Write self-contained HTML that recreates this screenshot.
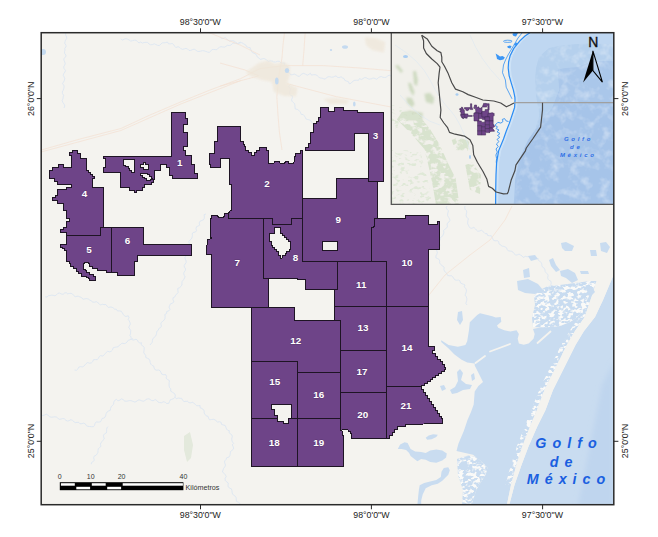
<!DOCTYPE html><html><head><meta charset="utf-8"><style>html,body{margin:0;padding:0;background:#fff;}svg{display:block;}text{font-family:"Liberation Sans",Arial,sans-serif;}</style></head><body>
<svg width="658" height="537" viewBox="0 0 658 537">
<defs><clipPath id="mc"><rect x="41.2" y="32.7" width="572.6" height="472"/></clipPath><clipPath id="ic"><rect x="391.2" y="32.7" width="222.6" height="171.6"/></clipPath><filter id="bl" x="-20%" y="-20%" width="140%" height="140%"><feGaussianBlur stdDeviation="1.2"/></filter><filter id="bl2" x="-20%" y="-20%" width="140%" height="140%"><feGaussianBlur stdDeviation="0.5"/></filter><filter id="bl3" x="-20%" y="-20%" width="140%" height="140%"><feGaussianBlur stdDeviation="2.5"/></filter><filter id="mot" x="0" y="0" width="1" height="1"><feTurbulence type="fractalNoise" baseFrequency="0.22 0.3" numOctaves="2" seed="11" result="n"/><feColorMatrix in="n" type="matrix" values="0 0 0 0 0.957 0 0 0 0 0.953 0 0 0 0 0.937 7 0 0 0 -3.25" result="c"/><feComposite in="c" in2="SourceAlpha" operator="in"/></filter><filter id="grn" x="0" y="0" width="1" height="1"><feTurbulence type="fractalNoise" baseFrequency="0.13 0.2" numOctaves="3" seed="3" result="n"/><feColorMatrix in="n" type="matrix" values="0 0 0 0 0.69 0 0 0 0 0.765 0 0 0 0 0.62 6 0 0 0 -2.05" result="c"/><feComposite in="c" in2="SourceAlpha" operator="in" result="d"/><feGaussianBlur in="d" stdDeviation="0.5"/></filter><filter id="tex" x="0" y="0" width="1" height="1"><feTurbulence type="fractalNoise" baseFrequency="0.1" numOctaves="3" seed="21" result="n"/><feColorMatrix in="n" type="matrix" values="0 0 0 0 1 0 0 0 0 1 0 0 0 0 1 0.9 0 0 0 -0.42" result="c"/><feComposite in="c" in2="SourceAlpha" operator="in"/></filter><filter id="grn2" x="0" y="0" width="1" height="1"><feTurbulence type="fractalNoise" baseFrequency="0.2 0.3" numOctaves="2" seed="5" result="n"/><feColorMatrix in="n" type="matrix" values="0 0 0 0 0.74 0 0 0 0 0.81 0 0 0 0 0.68 6 0 0 0 -3.2" result="c"/><feComposite in="c" in2="SourceAlpha" operator="in" result="d"/><feGaussianBlur in="d" stdDeviation="0.4"/></filter></defs>
<rect width="658" height="537" fill="#fff"/>
<g clip-path="url(#mc)">
<rect x="41" y="32" width="574" height="474" fill="#f4f3ef"/>
<g fill="none" stroke="#d9e5f2" stroke-width="0.8" stroke-linejoin="round">
<polyline points="66.3,32.0 65.6,33.6 65.7,35.2 66.6,37.0 66.6,38.6 65.5,40.2 65.0,41.8 64.7,43.4 66.0,45.1 66.0,46.8 64.8,48.3 65.0,50.0 64.5,51.7 64.6,53.4 65.9,55.1 65.8,56.8 63.9,58.5 64.0,60.2 64.7,61.9 65.2,63.6 64.6,65.3 63.7,66.9 64.1,68.6 65.5,70.4 64.9,72.0 63.8,73.6 63.2,75.3 64.2,77.0 64.7,78.7 64.4,80.4 63.5,82.0 62.5,83.6 63.8,85.3 64.1,87.0 63.7,88.7 63.2,90.3 62.3,91.9 62.5,93.6 63.6,95.3 63.2,96.9 63.0,98.6 62.2,100.6 62.8,102.4 64.2,104.2 64.8,106.0 64.0,108.0"/>
<polyline points="120.9,38.7 122.4,40.2 124.2,39.2 126.0,38.7 127.6,39.2 129.2,40.0 130.7,41.1 132.5,40.7 134.3,40.1 136.0,40.3 137.5,41.5 138.9,43.0 140.8,42.0 142.3,43.1 144.2,42.5 146.0,42.3 147.7,42.4 149.1,44.1 150.7,44.8 152.4,44.6 154.3,43.8 155.9,44.5 157.5,45.3 159.4,45.6 160.8,44.0 162.3,42.9 164.1,42.8 165.8,42.6 167.5,42.0 168.5,43.8 170.3,43.9 172.3,43.5 173.6,44.5 174.6,46.2 175.8,47.5 178.1,46.7 179.6,47.4 180.8,48.6 182.4,49.3 184.1,49.0 185.9,48.4 187.5,48.9 189.0,50.5 190.7,50.4 192.5,49.6 194.2,49.1 195.8,50.2 197.3,51.3 199.0,51.5 200.8,51.1 202.5,50.7 204.2,50.9 205.8,51.4 207.4,52.0 209.2,52.4 210.6,51.3 211.8,49.7 213.4,49.4 215.2,49.6 216.9,49.7 218.1,48.2 219.5,47.2 221.0,46.7 222.8,47.0 224.6,47.1 226.0,46.3 227.4,45.3 229.2,45.5 230.9,45.1 232.3,43.6 233.9,43.2 235.7,43.1 237.6,43.6 239.2,42.9 240.7,42.0"/>
<polyline points="220.0,37.2 221.3,38.6 223.1,38.5 225.2,37.6 226.6,38.7 227.9,40.1 229.4,41.0 231.2,40.8 233.0,40.8 234.6,41.2 236.0,42.6 237.5,43.5 239.4,43.0 241.2,42.6 242.8,43.2 244.3,44.3 245.8,45.0 246.5,46.7 248.1,47.3 250.1,47.7 250.8,49.4 251.5,51.0 252.3,52.5 253.9,53.2 255.6,53.9 256.5,55.3 257.3,56.9 258.7,57.8 260.1,59.4 261.9,59.0 263.8,58.5 265.4,59.0 266.9,60.5 268.4,61.4 270.3,60.9 272.0,61.0 273.7,62.0 275.5,62.0 277.5,61.3 279.3,61.3 280.9,62.8 282.7,63.2 284.6,63.0 284.5,64.9 285.5,66.2 287.8,66.9 287.9,68.7 287.4,70.8 288.3,72.2 289.7,73.3 290.9,75.0 292.8,74.5 294.6,74.1 296.1,75.0 297.5,75.9 299.3,76.5 300.7,74.9 302.1,73.9 303.7,73.4 305.5,74.2 307.4,75.2 308.9,74.3 310.4,73.3 311.5,75.1 313.6,74.7 315.5,74.7 317.0,75.4 318.4,76.6 319.8,78.0 321.6,78.1 323.3,78.5 325.1,79.2 326.5,77.7 328.0,76.8 329.6,76.7 331.4,77.2 333.1,77.1 334.6,76.4 336.2,75.9 337.4,77.4 339.1,77.6 341.1,76.8 342.5,77.9 344.0,78.5 344.8,80.3 346.6,81.1 348.5,81.8 349.2,83.7 350.9,83.4 352.1,82.1 353.3,80.8 354.9,80.3 356.7,80.3 358.6,80.3 359.5,78.5 361.2,79.5 362.9,78.7 364.7,77.5 366.4,77.8 368.1,78.9 369.8,79.2 371.6,78.6 373.3,78.0 375.0,78.5 376.8,79.3 378.2,77.8 379.7,77.0 381.2,76.5 383.0,77.3 384.7,77.5 386.3,77.3 387.7,75.8 389.3,75.3 391.0,75.9"/>
<polyline points="289.7,85.0 288.5,86.6 289.9,88.2 290.4,89.8 289.7,91.4 289.6,93.2 290.0,94.8 292.3,95.7 292.4,97.4 291.7,99.4 291.9,101.1 293.1,102.4 294.6,103.6 294.9,105.3 295.0,107.0 295.2,109.0 297.2,109.3 298.6,110.2 299.7,111.3 300.6,112.7 301.2,114.4 303.2,114.6 304.3,115.8 305.2,117.2 305.9,118.9 307.6,119.5 309.3,119.9 310.8,120.6 311.6,122.3 312.6,123.6 314.1,124.3 315.6,125.0"/>
<polyline points="45.2,296.7 47.0,297.1 48.3,295.7 50.0,295.5 51.6,295.2 53.3,295.4 55.0,295.8 56.5,294.8 57.9,293.4 59.5,293.0 61.4,294.0 63.1,294.3 64.5,293.1 66.1,292.6 67.5,293.8 69.3,293.5 71.1,293.3 72.6,294.1 73.9,295.5 75.1,296.9 77.1,296.2 78.8,296.4 80.3,297.1 81.9,297.8 83.1,299.3 85.0,298.8 86.8,298.6 88.4,299.1 89.8,300.1 91.3,300.9 92.7,302.0 94.3,302.3 96.3,301.6 97.7,302.6 99.1,303.7 100.4,305.0 102.4,304.3 104.0,304.6 105.8,304.5 107.0,306.1 108.3,307.4 110.2,307.1 111.9,307.2 113.4,308.0 114.7,309.2 116.4,309.3 117.4,310.9 119.4,310.9 121.2,311.2 122.2,312.7 123.2,314.3 124.3,315.7 125.8,316.5 128.3,315.8 129.0,317.7 128.2,319.4 129.3,320.9 129.9,322.5 130.4,324.1 129.4,325.8 128.8,327.5 129.8,329.0 130.7,330.5 130.6,332.1 130.5,333.8 129.9,335.5 131.1,337.0 131.0,338.6 132.3,339.8 133.9,340.0 136.0,339.2 137.4,340.1 138.4,341.9 139.6,343.1 141.5,342.8 141.1,344.7 142.8,345.9 144.1,347.2 144.2,348.9 144.0,350.7 143.7,352.6 144.6,354.0 145.7,355.4 145.7,357.4 147.5,358.3 149.2,359.2 149.9,360.7 150.2,362.5 150.8,364.1 152.0,365.4 153.8,366.2 154.1,368.0 155.0,369.7 156.7,370.2 158.8,370.0 160.2,370.9 161.0,372.7 161.9,374.3 163.7,374.7 165.7,374.6 166.6,376.3 166.0,378.2 167.6,379.5 169.4,380.6 169.2,382.4 169.1,384.2 169.1,386.0 169.6,387.6 170.8,388.9 170.7,391.1 172.5,392.3 174.4,393.4 175.3,395.1 175.0,397.3 176.3,398.7 178.2,398.1 179.9,398.3 181.6,398.4 182.7,400.4 184.1,401.6 185.9,401.3 187.6,401.4 188.9,402.6 190.6,402.8 192.5,402.4 194.0,403.2 195.3,404.4 196.6,405.7 198.3,405.7 200.1,405.6 200.0,407.7 201.9,408.5 203.4,409.5 204.2,411.0 204.1,413.0 205.1,414.4 206.0,415.8 208.1,416.4 208.5,418.2 209.7,419.9 211.6,419.5 213.4,419.3 215.0,419.8 216.3,421.0 217.7,422.1 219.6,421.7 221.1,422.4 221.5,424.4 223.3,425.0 225.1,425.5 225.9,427.1 226.5,429.0 227.6,430.2 229.4,430.8 229.0,432.7 230.6,433.9 232.0,435.1 232.3,436.8 231.7,438.7 231.9,440.4 232.4,442.0 233.6,443.3 232.2,444.9 233.4,447.0 233.6,448.9 232.0,450.4 230.4,451.6 230.3,453.6 229.9,455.5 228.9,457.1 226.7,457.8 226.0,459.5 224.6,461.0 224.7,462.9 225.5,465.0 224.9,466.8 223.6,468.3 223.0,470.0 222.4,472.0 224.1,473.3 225.3,474.8 226.2,476.3 225.1,478.5 225.3,480.4 226.6,481.8 228.3,483.1 228.0,485.0 228.3,486.7 229.4,488.1 231.3,488.8 231.9,490.4 232.1,492.2 232.5,493.9 233.6,495.2 235.3,496.2 236.1,497.6 236.3,499.4 236.4,501.3 238.3,502.2 239.7,503.2 240.0,505.0"/>
<polyline points="206.0,214.0 204.1,214.7 204.4,216.8 204.2,218.6 203.3,219.9 201.4,220.6 199.8,221.4 199.2,223.0 199.7,225.2 198.0,226.0 196.4,226.9 196.0,228.6 196.5,230.7 195.5,232.0 193.1,232.5 192.2,233.9 192.4,235.8 192.0,237.4 191.4,238.9 190.0,240.0 188.7,241.4 189.3,243.2 189.2,244.9 188.8,246.5 187.5,247.9 187.0,249.5 186.9,251.1 187.3,252.9 187.1,254.6 186.0,256.0 184.9,257.5 185.4,259.2 186.1,260.9 186.2,262.5 185.1,264.0 184.2,265.5 184.4,267.2 185.6,268.9 185.3,270.5 184.2,272.0 183.6,273.5 184.2,275.2 185.0,276.9 184.4,278.5 183.4,280.0 182.2,281.3 181.9,283.0 181.9,284.9 181.0,286.4 179.6,287.6 177.7,288.5 177.9,290.5 178.1,292.6 177.0,293.9 175.5,295.1 175.0,296.7 173.2,297.7 172.9,299.5 173.8,301.8 172.6,303.2 170.4,303.9 169.7,305.5 169.1,307.1 170.0,309.5 168.9,310.8 166.7,311.6 166.6,313.5 164.8,314.5 165.2,316.6 164.9,318.4 164.2,319.9 162.9,321.2 161.4,322.3 160.8,323.9 161.4,326.1 160.5,327.6 158.7,328.6 158.3,330.3 156.8,331.4 156.6,333.2 156.2,334.9 155.4,336.4 154.0,337.6 152.7,338.8 152.4,340.6 152.2,342.4 151.1,343.7 150.0,345.0"/>
<polyline points="41.0,414.0 42.4,415.6 44.3,415.1 46.3,414.3 47.9,415.0 49.3,416.6 50.9,417.2 52.7,417.1 54.6,416.8 56.3,417.0 57.8,418.2 59.2,419.3 61.0,419.1 62.8,418.5 64.4,418.8 65.8,420.2 67.3,421.0 69.0,420.7 70.9,419.7 72.4,420.3 73.8,421.7 75.3,422.6 77.0,422.4 78.7,422.4 80.0,423.8 81.8,423.6 83.7,423.2 85.2,423.8 86.4,425.6 87.9,426.4 89.6,426.5 91.3,426.6 93.4,426.7 94.5,425.4 95.1,423.3 96.2,421.9 98.3,422.1 100.3,421.9 101.3,420.5 102.0,418.5 103.8,418.2 105.1,417.1 105.7,415.4 106.1,413.7 106.9,412.2 108.3,411.1 110.3,410.4 110.5,408.5 111.1,406.9 112.2,405.6 113.6,404.3 113.8,402.1 114.7,400.4 116.4,399.3 117.9,400.8 119.7,400.2 121.6,398.8 123.1,399.7 124.7,401.0 126.3,401.3 128.1,400.9 129.8,400.5 131.5,400.8 133.1,401.4 134.9,402.1 136.5,401.4 138.1,400.1 139.8,400.0 141.5,400.7 143.3,401.3 144.9,400.4 146.5,399.4 148.1,398.7 149.9,399.3 151.4,400.4 153.1,400.7 155.2,399.6 156.7,400.4 158.1,402.1 159.7,402.6 161.5,402.7 163.5,401.8 165.2,402.2 166.6,403.5 168.7,403.4 169.5,401.6 170.3,399.8 172.1,399.2 173.8,398.6 175.0,397.3"/>
<polyline points="74.5,370.0 76.5,370.3 77.8,369.1 78.7,367.2 80.3,366.7 82.3,366.9 83.8,366.2 85.0,364.9 86.2,363.5 87.6,362.6 89.7,363.2 91.4,362.9 92.7,361.7 93.5,359.6 95.4,359.6 97.3,359.6 98.4,358.3 99.3,356.5 100.6,355.6 102.8,356.1 104.0,354.9 105.2,353.7 106.3,352.3 107.6,351.3 109.8,351.9 111.3,351.2 112.5,350.0 113.1,347.8 114.7,347.3 116.4,347.0 118.2,346.8 119.3,345.2 120.8,344.4 122.0,343.1 124.2,343.6 125.8,343.1 127.2,341.9 128.2,340.2 129.9,339.8 131.5,339.2 133.1,338.6"/>
<polyline points="108.0,426.6 106.9,427.9 106.7,429.6 106.6,431.3 106.4,432.9 104.5,433.9 103.5,435.2 103.7,437.0 104.3,439.0 103.0,440.2 102.1,441.6 100.8,442.8 100.5,444.4 101.0,446.3 99.6,447.5 98.3,448.7 98.0,450.5 97.9,452.4 97.1,453.9 96.1,455.3 94.1,456.2 93.7,457.9 94.3,460.1 93.3,461.5 91.5,462.5 91.3,464.3"/>
<polyline points="447.0,206.0 446.3,207.7 446.9,209.3 448.5,210.7 448.0,212.4 447.6,214.1 447.6,215.7 448.6,217.2 449.4,218.7 450.0,220.3 449.0,222.0 447.4,223.1 447.2,224.8 447.4,226.8 446.4,228.2 444.9,229.3 443.5,230.5 443.9,232.6 443.4,234.2 442.8,235.8 441.3,236.9 440.0,238.1 440.0,240.0 439.0,241.4 438.6,243.0 440.0,245.0 439.1,246.5 437.4,247.7 436.4,249.2 436.9,251.0 437.3,252.8 436.8,254.3 436.0,255.8 435.8,257.8 437.6,258.6 439.2,259.5 439.7,261.1 439.6,263.0 440.6,264.4 441.8,265.5 443.4,266.4 444.2,267.8 443.9,269.9 444.7,271.3 445.8,272.6 447.0,273.7 447.7,275.6 449.6,275.7 451.5,275.8 452.8,276.8 453.7,278.3 454.8,279.8 456.4,280.3 458.5,280.0 459.9,280.8 460.5,283.0 462.0,283.7 463.5,284.3 465.0,285.0 464.3,286.8 465.5,288.3 466.4,289.9 466.4,291.6 465.7,293.3 465.1,295.1 466.3,296.7 466.7,298.3 466.9,300.0 466.4,301.7 465.8,303.4 467.0,305.0"/>
<polyline points="538.0,258.0 538.0,260.0 539.7,261.1 540.9,262.4 541.8,263.8 541.9,265.8 542.7,267.3 544.4,268.3 545.0,270.0 545.0,271.7 546.3,272.9 547.7,274.1 548.1,275.6 547.7,277.6 548.0,279.2 549.2,280.4 551.0,281.3 551.2,283.0 550.9,284.9 551.7,286.3 552.6,287.7 553.5,289.0"/>
<polyline points="465.0,206.0 464.7,207.7 465.2,209.3 466.5,210.7 466.7,212.3 466.3,214.0 466.1,215.7 466.6,217.3 468.4,218.6 467.9,220.4 467.7,222.1 467.6,223.8 468.5,225.2 469.0,226.8 470.3,227.9 471.8,228.3 473.9,227.4 475.2,228.6 476.3,230.0 477.6,231.2 479.3,231.1 481.4,230.3 482.7,231.2 484.0,232.4 485.2,233.7 487.0,233.5 487.5,235.4 489.4,235.7 491.3,235.8 492.1,237.4 492.9,239.0 493.7,240.5 495.5,240.8 497.7,240.7 498.7,241.9 499.1,244.0 500.6,244.7 501.6,246.0 503.4,246.4 505.0,246.8 506.4,247.6 507.2,249.4 508.1,250.8 509.9,251.0 511.7,251.3 513.1,252.1 514.0,253.6 515.4,254.8 517.0,255.1 519.0,254.0 520.5,255.0 522.0,255.9 523.3,257.4 525.3,256.4 526.9,256.7 528.6,256.8 530.0,258.0"/>
</g>
<g fill="none" stroke="#f4dfd1" stroke-width="0.7" stroke-linejoin="round">
<polyline points="41.0,150.1 80.0,139.0 120.9,128.5 150.0,115.0 180.8,101.9 210.0,90.0 240.7,78.6 260.0,68.6 284.6,65.6 323.3,65.6 360.0,68.0 391.0,70.7"/>
<polyline points="41.0,152.0 120.9,130.5 180.8,104.0 240.7,80.6"/>
<polyline points="284.6,32.0 283.0,45.0 282.0,57.8 279.0,75.0 276.8,96.6 278.0,115.0 279.4,132.0 282.0,150.0"/>
<polyline points="305.2,32.0 304.0,50.0 302.7,65.6"/>
<polyline points="220.0,63.0 245.0,70.0 258.7,75.9"/>
<polyline points="220.0,86.2 258.7,75.9"/>
<polyline points="287.2,83.7 336.2,96.6 391.0,107.0"/>
<polyline points="207.4,32.0 240.7,45.3 260.0,55.0"/>
<polyline points="425.0,300.0 445.0,275.0 470.0,255.0 490.0,240.0 505.0,220.0 512.0,206.0"/>
<polyline points="391.0,205.0 405.0,202.0"/>
</g>
<g fill="#efe7da" opacity="0.8" filter="url(#bl)"><polygon points="258.7,63 268,60.4 275,64 284,62 289.7,66 290,75 287,83.7 280,84 272,82 262,80 250,76 245.8,72"/><polygon points="271.7,81 285,82 297.5,88 296,96.6 284,96 274,92"/><polygon points="364.7,37.2 375,38 385.3,42 384,52.7 372,50 366,45"/><polygon points="323,99 335,98 349,100 347,104 330,104"/></g>
<g fill="#c4daf0"><ellipse cx="287" cy="70.5" rx="2.2" ry="2.6"/><ellipse cx="276.8" cy="81" rx="1.8" ry="3.6"/><ellipse cx="345" cy="47" rx="3" ry="1.8"/><ellipse cx="331" cy="50" rx="1.2" ry="1"/><ellipse cx="354.3" cy="104" rx="1.3" ry="2.5"/><ellipse cx="43" cy="52" rx="3" ry="3"/></g>
<g fill="#e3e9dc" filter="url(#bl2)"><polygon points="184,436 190,432 193,445 191,458 187,462 184,450"/></g>
<polygon points="616.0,268.0 614.0,274.0 611.0,281.0 603.0,300.0 595.0,317.0 584.0,331.0 575.5,345.0 568.0,360.0 560.5,375.0 553.0,390.0 545.5,410.0 537.5,426.0 528.5,446.5 521.5,465.0 514.5,485.0 509.5,504.0 509.0,507.0 616.0,507.0" fill="#c9dcf0"/>
<polygon points="471.0,507.0 473.0,500.0 476.6,489.3 482.0,480.2 485.7,474.7 487.5,467.4 482.0,462.0 473.0,454.7 456.5,451.0 458.4,443.7 463.8,430.9 467.5,420.0 471.0,412.0 473.7,404.5 474.7,391.5 478.4,385.9 483.0,382.1 478.4,372.8 474.7,365.4 474.7,363.5 467.2,362.6 461.6,359.8 454.2,354.2 448.6,348.6 441.2,342.1 441.2,340.2 448.6,344.9 457.9,346.8 465.4,344.9 467.2,341.2 469.0,330.0 469.8,322.3 477.2,314.9 480.0,313.2 487.3,315.1 492.2,316.3 495.8,317.5 500.7,316.9 501.3,321.7 497.0,325.4 498.2,327.8 504.3,330.3 510.4,331.5 516.5,330.3 518.9,333.9 517.7,338.8 518.9,343.6 523.8,344.8 528.6,343.6 533.5,338.8 534.7,333.9 533.0,329.0 540.0,327.5 550.0,327.0 560.0,326.0 570.0,322.0 576.0,318.0 582.0,312.0 587.0,300.0 592.0,290.0 597.0,284.0 590.5,300.0 584.7,317.0 575.0,331.0 566.8,345.0 559.5,360.0 552.0,375.0 544.5,390.0 537.0,410.0 530.2,426.0 522.3,446.5 516.4,465.0 511.0,485.0 507.1,504.0 506.8,507.0 507.0,507.0" fill="#c9dcf0"/>
<polygon points="533.0,327.0 532.0,318.0 535.0,305.0 534.0,296.0 540.0,290.0 548.0,286.0 560.0,285.0 575.0,283.0 590.0,281.0 598.0,281.0 592.0,290.0 587.0,300.0 582.0,312.0 576.0,318.0 570.0,322.0 560.0,326.0 545.0,327.5" fill="#c9dcf0"/>
<polygon points="533.0,327.0 532.0,318.0 535.0,305.0 534.0,296.0 540.0,290.0 548.0,286.0 560.0,285.0 575.0,283.0 590.0,281.0 598.0,281.0 592.0,290.0 587.0,300.0 582.0,312.0 576.0,318.0 570.0,322.0 560.0,326.0 545.0,327.5" fill="#000" filter="url(#mot)"/>
<polygon points="457.0,459.0 468.0,455.5 476.0,457.0 482.0,462.0 487.5,467.4 485.7,474.7 482.0,480.2 476.6,489.3 473.0,500.0 471.0,506.0 462.0,506.0 463.0,490.0 458.0,475.0" fill="#c9dcf0"/>
<polygon points="457.0,459.0 468.0,455.5 476.0,457.0 482.0,462.0 487.5,467.4 485.7,474.7 482.0,480.2 476.6,489.3 473.0,500.0 471.0,506.0 462.0,506.0 463.0,490.0 458.0,475.0" fill="#000" filter="url(#mot)"/>
<polygon points="590.5,300.0 584.7,317.0 575.0,331.0 566.8,345.0 559.5,360.0 552.0,375.0 544.5,390.0 537.0,410.0 530.2,426.0 522.3,446.5 516.4,465.0 511.0,485.0 505.5,485.0 510.9,465.0 516.8,446.5 524.7,426.0 531.5,410.0 539.0,390.0 546.5,375.0 554.0,360.0 561.2,345.0 569.5,331.0 579.2,317.0 585.0,300.0" fill="#000" filter="url(#mot)"/>
<polygon points="616.0,268.0 614.0,274.0 611.0,281.0 603.0,300.0 595.0,317.0 584.0,331.0 575.5,345.0 568.0,360.0 560.5,375.0 553.0,390.0 545.5,410.0 537.5,426.0 528.5,446.5 521.5,465.0 514.5,485.0 509.5,504.0 509.0,507.0 506.8,507.0 507.1,504.0 511.0,485.0 516.4,465.0 522.3,446.5 530.2,426.0 537.0,410.0 544.5,390.0 552.0,375.0 559.5,360.0 566.8,345.0 575.0,331.0 584.7,317.0 590.5,300.0 596.4,281.0 598.9,274.0 600.5,268.0" fill="#f4f3ef"/>
<g stroke="#f4f3ef" stroke-width="1.8" stroke-linecap="round"><line x1="537.5" y1="343" x2="550.5" y2="331.5"/><line x1="490" y1="351.5" x2="510" y2="344"/><line x1="475.5" y1="363" x2="485" y2="356"/></g>
<g fill="#c9dcf0">
<polygon points="425.7,437.8 428.7,435.6 433.2,434.3 437.8,434.8 436.3,437.1 431.7,439.3 427.2,439.8"/>
<polygon points="397.8,449.1 400.1,444.6 404.6,442.3 407.6,443.1 410.6,449.1 415.2,451.4 421.2,452.1 425.7,452.9 430.2,450.6 436.3,449.4 442.3,450.6 446.8,453.6 446.1,457.4 442.3,460.4 436.3,462.7 430.2,461.9 425.7,459.7 421.2,458.9 417.4,461.2 414.4,458.9 410.6,455.9 409.1,452.9 406.1,449.9 401.6,449.1"/>
<polygon points="419.7,485.3 424.2,483.0 430.2,481.5 436.3,480.0 440.8,477.0 441.5,471.7 443.8,468.0 448.3,467.2 449.8,470.2 448.3,474.8 445.3,477.8 442.3,480.8 437.8,483.8 431.7,485.3 425.7,488.3 422.7,494.4 421.2,500.4 421.2,504.9 417.4,504.9 418.2,495.9 418.9,489.8"/>
<polygon points="458.9,464.2 461.9,461.2 466.4,461.2 467.9,465.7 466.4,469.5 461.9,470.2 458.9,468.0"/>
<polygon points="561.0,243.0 566.0,242.0 574.0,246.0 572.0,251.0 565.0,251.0 562.0,248.0"/>
<polygon points="590.0,250.0 596.0,250.0 597.0,256.0 591.0,256.0"/>
<polygon points="600.0,243.0 606.0,242.0 610.0,247.0 607.0,253.0 601.0,251.0"/>
<polygon points="528.0,256.0 535.0,255.0 538.0,259.0 531.0,261.0"/>
<polygon points="523.0,270.0 529.0,268.0 530.0,277.0 524.0,278.0"/>
<polygon points="517.0,281.0 528.0,279.0 538.0,284.0 543.0,290.0 535.0,294.0 525.0,293.0 518.0,290.0"/>
<polygon points="549.0,260.0 553.0,258.0 556.0,265.0 560.0,270.0 556.0,272.0 551.0,266.0"/>
<polygon points="560.0,271.0 568.0,269.0 575.0,273.0 578.0,280.0 572.0,283.0 566.0,278.0 561.0,276.0"/>
<polygon points="580.0,271.0 588.0,271.0 589.0,274.0 581.0,274.0"/>
<polygon points="458.0,312.0 462.0,311.0 463.0,320.0 460.0,325.0 457.0,320.0"/>
<polygon points="457.0,372.0 460.0,369.0 463.0,373.0 461.0,380.0 466.0,384.0 472.0,385.0 470.0,389.0 463.0,390.0 457.0,393.0 452.0,394.0 450.0,390.0 455.0,387.0 458.0,381.0"/>
<polygon points="440.0,386.0 444.0,385.0 446.0,389.0 442.0,391.0"/>
<polygon points="471.0,375.0 474.0,373.0 475.0,379.0 472.0,381.0"/>
<polygon points="586.0,289.0 592.0,287.0 595.0,292.0 590.0,297.0"/>
</g>
<polygon points="602,385 614,362 614,505 578,505" fill="#bfd5ee" filter="url(#bl3)"/>
</g>
<g id="polys" fill="#6e4488" stroke="#1e1424" stroke-width="1" stroke-linejoin="miter" shape-rendering="crispEdges">
<polygon points="171.7,112.5 185.8,112.5 185.8,118.3 187.9,118.3 187.9,124.0 183.4,124.0 183.4,132.2 187.9,132.2 187.9,146.2 183.4,146.2 183.4,150.2 185.3,150.2 185.3,155.9 191.4,155.9 191.4,164.1 194.1,164.1 194.1,173.2 197.1,173.2 197.1,178.5 172.0,178.5 172.0,175.8 169.0,175.8 169.0,167.5 166.3,167.5 166.3,164.8 160.5,164.8 160.5,170.1 154.6,170.1 154.6,179.0 153.0,179.0 153.0,182.2 151.1,182.2 151.1,184.0 144.4,184.0 144.4,187.0 142.6,187.0 142.6,190.0 136.6,190.0 136.6,192.2 134.0,192.2 134.0,190.0 129.2,190.0 129.2,187.0 120.0,187.0 120.0,172.9 103.4,172.9 103.4,167.7 105.1,167.7 105.1,158.7 103.4,158.7 103.4,156.1 171.7,156.1"/>
<polygon points="209.2,153.6 214.2,153.6 214.2,141.9 215.9,141.9 215.9,141.0 217.6,141.0 217.6,126.8 240.5,126.8 240.5,141.0 242.1,141.0 242.1,141.9 243.6,141.9 244.4,146.9 245.7,146.9 245.7,150.3 246.9,150.3 248.6,150.3 248.6,152.8 250.3,152.8 251.6,152.8 251.6,155.3 252.8,155.3 254.1,155.3 254.1,152.8 255.3,152.8 256.6,152.8 256.6,150.3 257.8,150.3 259.1,150.3 259.1,147.7 260.3,147.7 265.3,147.7 266.8,147.7 266.8,150.3 268.3,150.3 268.7,163.6 273.7,163.6 274.5,161.6 279.6,161.6 280.4,163.6 284.6,163.6 285.4,161.6 287.9,161.6 288.4,161.6 288.4,163.6 288.8,163.6 293.8,163.6 294.6,156.1 295.9,156.1 295.9,153.6 297.2,153.6 300.0,153.3 300.0,150.3 302.6,150.3 302.6,218.2 291.5,218.2 291.5,224.4 272.0,224.4 272.0,218.2 228.5,218.2 228.5,212.7 229.2,212.7 229.2,211.0 229.8,211.0 231.8,210.2 231.8,185.0 229.3,184.6 229.3,158.6 220.1,158.6 220.1,167.0 211.7,167.0 210.4,167.0 210.4,164.5 209.2,164.5"/>
<polygon points="320.2,107.6 328.5,107.6 328.5,111.8 334.4,111.8 334.4,107.6 343.0,107.6 343.0,110.1 357.4,110.1 357.4,112.3 383.0,112.3 383.0,181.1 368.7,181.1 368.7,133.2 354.5,133.2 354.5,150.0 305.9,150.0 305.9,147.5 308.4,147.5 308.4,143.8 310.9,143.8 310.9,132.2 313.5,132.2 313.5,123.8 316.0,123.8 316.0,121.2 318.5,121.2 318.5,117.8 320.2,117.8"/>
<polygon points="72.2,150.3 77.6,150.3 77.6,153.0 80.1,153.0 80.1,158.9 86.4,158.9 86.4,170.2 88.5,170.2 88.5,172.2 90.6,172.2 90.6,174.8 92.7,174.8 92.7,176.8 94.7,176.8 94.7,178.1 92.7,178.1 92.7,187.0 103.3,187.0 103.3,227.1 100.4,227.1 100.4,235.5 66.5,235.5 66.5,232.6 60.4,232.6 60.4,229.5 63.4,229.5 63.4,227.0 66.0,227.0 66.0,221.3 69.1,221.3 69.1,218.3 66.0,218.3 66.0,210.1 63.4,210.1 63.4,203.9 57.3,203.9 57.3,200.9 52.2,200.9 52.2,197.8 55.2,197.8 55.2,195.2 57.8,195.2 57.8,189.6 66.5,189.6 66.5,187.0 71.8,187.0 71.8,184.0 57.5,184.0 57.5,181.0 54.2,181.0 54.2,178.1 49.2,178.1 49.2,170.2 52.5,170.2 52.5,167.2 58.0,167.2 58.0,164.7 63.4,164.7 63.4,167.2 71.8,167.2 71.8,155.5 69.2,155.5 69.2,152.6 72.2,152.6"/>
<polygon points="66.5,235.5 100.4,235.5 100.4,227.1 111.8,227.1 111.8,272.5 106.3,272.5 106.3,270.0 97.4,270.0 97.4,268.0 92.5,268.0 92.5,266.0 89.6,266.0 89.6,263.6 88.1,263.6 88.1,262.1 84.1,262.1 84.1,263.6 83.6,263.6 83.6,269.0 85.6,269.0 85.6,270.5 86.6,270.5 86.6,272.5 89.6,272.5 89.6,274.4 93.5,274.4 93.5,276.4 95.0,276.4 95.0,280.4 89.6,280.4 89.6,278.9 88.6,278.9 88.6,277.5 86.1,277.5 86.1,276.0 81.2,276.0 81.2,273.5 78.7,273.5 78.7,271.0 76.2,271.0 76.2,268.5 73.3,268.5 73.3,266.0 70.5,266.0 70.5,263.5 69.3,263.5 69.3,261.6 66.8,261.6 66.8,250.8 64.9,250.8 64.9,248.3 62.9,248.3 62.9,247.3 60.4,247.3 60.4,244.3 66.5,244.3"/>
<polygon points="111.8,227.1 143.2,227.1 143.2,244.9 191.9,244.9 191.9,255.5 137.2,255.5 137.2,261.3 134.7,261.3 134.7,275.3 117.0,275.3 117.0,272.8 111.8,272.5"/>
<polygon points="263.5,218.2 228.5,218.2 228.5,213.5 224.3,213.5 224.3,216.9 218.4,217.7 217.6,215.2 211.7,215.2 211.3,215.2 211.3,218.1 210.4,218.1 210.4,221.0 210.0,221.0 210.0,236.1 210.8,236.1 210.8,237.0 211.7,237.0 211.7,238.7 207.5,239.5 207.5,243.7 206.7,245.4 206.7,254.7 211.4,255.0 211.4,307.0 268.7,307.0 268.7,278.5 263.5,278.5"/>
<polygon points="263.5,218.2 272.0,218.2 272.0,224.4 291.5,224.4 291.5,218.2 302.6,218.2 302.6,261.0 337.2,261.0 337.2,289.6 305.9,289.6 305.9,279.1 268.7,278.7 263.5,278.5"/>
<polygon points="302.6,198.5 336.9,198.5 336.9,178.4 368.7,178.4 368.7,181.1 377.1,181.1 377.1,218.2 374.7,218.2 374.7,226.8 371.8,227.3 371.8,261.0 302.6,261.0"/>
<polygon points="374.7,218.2 405.4,218.2 405.7,215.5 428.3,215.5 428.3,224.1 437.1,224.1 437.4,221.6 439.6,221.6 439.6,249.4 428.3,249.4 428.3,306.7 386.1,306.7 386.1,261.0 371.8,261.0 371.8,227.3 374.7,226.8"/>
<polygon points="337.2,261.0 386.1,261.0 386.1,306.7 334.6,306.7 334.6,289.6 337.2,289.6"/>
<polygon points="251.8,307.0 294.8,307.0 294.8,320.9 340.4,320.9 340.4,372.7 297.8,372.7 297.8,361.0 251.8,361.0"/>
<polygon points="334.6,306.7 386.1,306.7 386.1,350.0 340.4,350.0 340.4,320.9 334.6,320.9"/>
<polygon points="386.1,306.7 428.3,306.7 428.3,346.7 434.4,346.7 434.4,350.3 432.1,350.3 432.1,353.3 434.4,353.3 435.5,353.3 435.5,356.2 437.8,356.2 437.8,359.0 440.0,359.0 440.0,361.9 442.3,361.9 442.3,364.7 444.6,364.7 444.6,367.6 445.7,367.6 445.7,369.9 444.3,369.9 444.3,371.8 441.4,371.8 441.4,373.7 438.6,373.7 438.6,375.6 435.7,375.6 435.7,377.5 432.9,377.5 432.9,379.3 430.0,379.3 430.0,381.2 427.1,381.2 427.1,383.1 424.3,383.1 424.3,385.0 421.4,385.0 421.4,386.9 420.0,386.9 386.1,386.9"/>
<polygon points="251.8,361.0 297.8,361.0 297.8,418.5 251.8,418.5"/>
<polygon points="297.8,372.7 340.4,372.7 340.4,418.5 297.8,418.5"/>
<polygon points="340.4,350.0 386.1,350.0 386.1,392.5 340.4,392.5"/>
<polygon points="251.8,418.5 297.8,418.5 297.8,466.7 251.8,466.7"/>
<polygon points="297.8,418.5 340.4,418.5 340.4,430.5 342.0,431.0 342.0,434.0 342.6,434.0 342.6,435.0 343.2,435.0 343.2,466.7 297.8,466.7"/>
<polygon points="340.4,392.5 386.1,392.5 386.1,438.8 351.4,438.8 351.4,433.3 350.0,433.3 350.0,431.5 348.7,431.5 347.8,429.7 343.2,429.7 340.4,430.5"/>
<polygon points="386.1,386.9 420.0,386.9 421.0,386.9 421.0,389.8 423.1,389.8 423.1,392.7 425.1,392.7 425.1,395.6 427.2,395.6 427.2,398.5 429.2,398.5 429.2,401.4 431.3,401.4 431.3,404.4 433.4,404.4 433.4,407.3 435.4,407.3 435.4,410.2 437.5,410.2 437.5,413.1 439.5,413.1 439.5,416.0 441.6,416.0 441.6,418.9 442.6,418.9 442.6,423.8 405.2,424.2 405.2,426.4 399.0,426.4 397.6,426.4 397.6,429.5 394.8,429.5 394.8,432.6 392.1,432.6 392.1,435.7 389.3,435.7 389.3,438.8 387.9,438.8 386.1,438.8"/>
</g>
<g fill="#f4f3ef" stroke="#1e1424" stroke-width="1" shape-rendering="crispEdges">
<polygon points="123.6,159.1 134.4,159.1 134.4,172.9 131.8,172.9 131.8,170.6 129.9,170.6 129.9,168.4 128.1,168.4 128.1,166.9 125.8,166.9 125.8,165.1 123.6,165.1"/>
<polygon points="143.0,162.1 145.9,162.1 145.9,164.3 148.5,164.3 148.5,169.5 143.3,169.5 143.3,167.3 140.7,167.3 140.7,164.3 143.0,164.3"/>
<polygon points="140.7,173.6 147.8,173.6 147.8,174.7 149.7,174.7 149.7,176.2 151.5,176.2 151.5,178.1 152.8,178.1 152.8,179.6 150.8,179.6 150.8,180.7 146.3,180.7 146.3,178.8 144.4,178.8 144.4,177.3 142.6,177.3 142.6,175.5 140.7,175.5"/>
<polygon points="274.9,227.4 280.2,227.4 280.2,233.2 282.3,233.2 282.3,235.7 284.5,235.7 284.5,237.8 286.6,237.8 286.6,239.6 288.4,239.6 288.4,241.3 290.8,241.3 290.8,249.1 289.1,249.1 289.1,251.2 286.9,251.2 286.9,253.0 285.2,253.0 285.2,255.1 282.7,255.1 282.7,257.3 282.0,258.3 280.9,258.3 280.6,257.3 280.6,255.1 278.1,255.1 278.1,251.2 276.3,251.2 276.3,249.1 274.6,249.1 274.6,247.4 272.8,247.4 272.8,245.2 271.7,245.2 271.7,241.0 269.2,241.0 269.2,233.2 274.9,233.2"/>
<polygon points="322.7,241.7 337.4,241.7 337.4,250.0 322.7,250.0"/>
<polygon points="271.9,404.2 291.5,404.2 291.5,418.2 288.6,418.2 288.6,423.7 283.4,423.7 283.4,421.1 277.6,421.1 277.6,415.4 274.8,415.4 274.8,409.6 271.9,409.6"/>
</g>
<g fill="#fff" font-size="9.9" font-weight="bold" text-anchor="middle" stroke="#553268" stroke-width="1.3" stroke-opacity="0.55" paint-order="stroke" stroke-linejoin="round">
<text x="179.7" y="165.9">1</text>
<text x="267" y="186.8">2</text>
<text x="375.4" y="138.8">3</text>
<text x="84.4" y="197.4">4</text>
<text x="89" y="252.8">5</text>
<text x="127.4" y="244.0">6</text>
<text x="237.2" y="266.2">7</text>
<text x="295.5" y="260.7">8</text>
<text x="338.2" y="223.0">9</text>
<text x="406.9" y="266.2">10</text>
<text x="361.2" y="287.9">11</text>
<text x="295.8" y="344.4">12</text>
<text x="362.9" y="331.4">13</text>
<text x="406.9" y="350.7">14</text>
<text x="274.8" y="384.9">15</text>
<text x="318.7" y="397.6">16</text>
<text x="362" y="374.6">17</text>
<text x="274.3" y="445.8">18</text>
<text x="318.7" y="445.8">19</text>
<text x="362.7" y="417.8">20</text>
<text x="406.1" y="409.2">21</text>
</g>
<g fill="#1a5fe0" font-size="14.3" font-weight="bold" font-style="italic" text-anchor="middle" letter-spacing="6">
<text x="569" y="447.9">Golfo</text><text x="564" y="466.6">de</text><text x="569" y="483.8">México</text>
</g>
<rect x="59.8" y="482.2" width="123.6" height="8" fill="#000"/>
<rect x="60.9" y="483.2" width="13.9" height="2.5" fill="#fff"/>
<rect x="76.3" y="486.8" width="13.8" height="2.5" fill="#fff"/>
<rect x="91.8" y="483.2" width="13.9" height="2.5" fill="#fff"/>
<rect x="107.2" y="486.8" width="13.9" height="2.5" fill="#fff"/>
<rect x="122.7" y="483.2" width="60.2" height="2.5" fill="#fff"/>
<g font-size="7" fill="#333" text-anchor="middle">
<text x="59.8" y="478.6">0</text>
<text x="90.7" y="478.6">10</text>
<text x="121.6" y="478.6">20</text>
<text x="183.4" y="478.6">40</text>
</g>
<text x="185.5" y="489.8" font-size="7.2" fill="#333">Kilómetros</text>
<g clip-path="url(#ic)">
<rect x="391" y="32" width="224" height="174" fill="#f1f0eb"/>
<g fill="#cbd8bd" filter="url(#bl)" opacity="0.9">
<polygon points="394.9,66.0 398.0,64.8 403.1,71.0 401.0,73.0"/>
<polygon points="413.0,71.3 416.0,71.0 417.9,80.0 417.0,86.1 414.0,84.0"/>
<polygon points="408.0,82.8 411.0,83.0 414.6,92.0 413.0,95.9 409.5,90.0"/>
<polygon points="424.4,94.0 430.0,92.7 434.3,98.0 433.0,104.1 426.0,102.0"/>
<polygon points="406.4,97.6 412.0,98.0 414.6,104.0 412.0,107.4 407.0,103.0"/>
<polygon points="401.5,113.0 410.0,110.7 422.8,113.0 422.0,120.0 408.0,120.0 402.0,117.0"/>
</g>
<g fill="#000" filter="url(#grn2)">
<polygon points="391.0,150.0 420.0,150.0 434.0,205.0 391.0,205.0"/>
<polygon points="391.0,105.0 402.0,105.0 404.0,125.0 391.0,130.0"/>
</g>
<g fill="#000" filter="url(#grn)">
<polygon points="396.9,119.6 402.0,112.0 416.4,111.7 430.1,129.3 439.9,145.0 447.7,162.6 455.6,178.3 459.5,205.0 436.0,205.0 432.1,182.2 428.2,164.6 424.3,148.9 410.6,133.3"/>
<polygon points="451.7,140.0 458.0,137.2 469.3,141.0 468.0,150.9 455.0,150.0"/>
<polygon points="465.3,165.0 472.0,162.6 481.0,175.0 480.0,193.9 470.0,190.0"/>
</g>
<g fill="none" stroke="#dce7f2" stroke-width="0.6"><path d="M395,45 Q420,60 430,80 T450,110 T470,150"/><path d="M470,35 Q480,60 500,80"/><path d="M400,95 Q420,120 440,125"/></g>
<g fill="#a9cdf2"><ellipse cx="405.5" cy="56.5" rx="2.5" ry="1.6"/><ellipse cx="457" cy="94.5" rx="1.5" ry="1.2"/><ellipse cx="470" cy="157" rx="1" ry="2"/></g>
<polygon points="531.0,32.0 525.0,36.0 519.8,40.9 513.8,48.4 510.1,55.8 508.6,61.8 508.2,68.0 509.1,75.6 511.2,82.9 513.4,90.1 514.9,97.4 515.0,100.0 514.6,107.4 513.2,111.7 509.3,123.4 506.3,131.0 503.5,139.0 498.6,150.8 496.6,162.6 496.0,175.0 495.7,190.0 495.6,206.0 615.0,206.0 615.0,32.0" fill="#cde2f6"/>
<polygon points="533.6,32.0 527.6,36.0 522.4,40.9 516.4,48.4 512.7,55.8 511.2,61.8 510.8,68.0 511.7,75.6 513.8,82.9 516.0,90.1 517.5,97.4 517.6,100.0 517.2,107.4 515.8,111.7 511.9,123.4 508.9,131.0 506.1,139.0 501.2,150.8 499.2,162.6 498.6,175.0 498.3,190.0 498.2,206.0 615.0,206.0 615.0,32.0" fill="#bfd7f1" filter="url(#bl2)"/>
<polygon points="615.0,44.0 585.4,43.6 563.6,45.1 549.0,48.0 538.9,56.7 536.0,68.3 535.0,80.0 536.0,95.5 539.3,115.2 532.8,138.1 522.9,161.1 516.4,184.0 513.0,206.0 615.0,206.0" fill="#b5d0ed" filter="url(#bl2)"/>
<polygon points="557.8,69.8 563.6,68.3 578.1,66.9 592.6,61.0 615.0,61.0 615.0,206.0 514.0,206.0 515.0,180.0 519.0,160.0 528.0,140.0 542.0,120.0 552.0,108.0 559.2,90.1" fill="#aac7ea" filter="url(#bl2)"/>
<polygon points="562.0,100.0 575.0,102.0 615.0,102.0 615.0,206.0 517.0,206.0 517.5,180.0 522.0,158.5 531.0,139.0 545.0,119.6" fill="#a6c4e9" filter="url(#bl)"/>
<polygon points="615.0,44.0 585.4,43.6 563.6,45.1 549.0,48.0 538.9,56.7 536.0,68.3 535.0,80.0 536.0,95.5 539.3,115.2 532.8,138.1 522.9,161.1 516.4,184.0 513.0,206.0 615.0,206.0" fill="#000" filter="url(#tex)"/>
<polygon points="508.5,121.5 506.1,120.9 504.6,118.6 502.3,119.4 503.0,121.5 500.9,123.1 497.9,122.3 494.9,125.3 497.5,126.8 496.0,128.5 499.0,130.0 497.0,131.8 500.0,133.5 497.5,135.5 499.8,137.2 497.0,139.5 499.0,141.5 496.4,144.0 498.2,146.5 496.0,149.0 497.3,152.0 495.9,155.0 496.6,158.5 496.2,162.6 498.6,150.8 503.5,139.0 506.3,131.0 509.3,123.4" fill="#eef0ee"/>
<polyline points="508.5,121.5 506.1,120.9 504.6,118.6 502.3,119.4 503.0,121.5 500.9,123.1 497.9,122.3 494.9,125.3 497.5,126.8 496.0,128.5 499.0,130.0 497.0,131.8 500.0,133.5 497.5,135.5 499.8,137.2 497.0,139.5 499.0,141.5 496.4,144.0 498.2,146.5 496.0,149.0 497.3,152.0 495.9,155.0 496.6,158.5 496.2,162.6" fill="none" stroke="#3592f2" stroke-width="0.9"/>
<polyline points="522.0,33.0 518.0,38.0 514.0,45.0 511.0,50.0 508.0,55.0 505.5,60.0 503.5,65.0 502.5,72.7 505.4,80.0 506.2,87.2 509.1,93.0 512.0,98.8" fill="none" stroke="#3592f2" stroke-width="0.8"/>
<g fill="#3b96f5"><polygon points="507.1,46.5 509.5,45.4 511.6,46 510.5,48.4 508,48"/><polygon points="513.8,44.5 516,42.4 517.6,43 516.5,45.4 514.5,45.6"/><polygon points="495.6,53.6 498,55 500,56.5 502.5,56 504.9,57.5 503.5,59.5 500,60.3 497,59 496.5,56.5"/><polygon points="512.3,34 515,32 518.3,32.5 516,36.5 513.5,36"/></g>
<ellipse cx="507.8" cy="41.3" rx="4.3" ry="1.1" fill="none" stroke="#3b96f5" stroke-width="0.8"/>
<polyline points="531.0,32.0 525.0,36.0 519.8,40.9 513.8,48.4 510.1,55.8 508.6,61.8 508.2,68.0 509.1,75.6 511.2,82.9 513.4,90.1 514.9,97.4 515.0,100.0 514.6,107.4 513.2,111.7 509.3,123.4 506.3,131.0 503.5,139.0 498.6,150.8 496.6,162.6 496.0,175.0 495.7,190.0 495.6,206.0" fill="none" stroke="#2a8cf5" stroke-width="1.2"/>
<line x1="514" y1="102.7" x2="615" y2="102.7" stroke="#a0a0a0" stroke-width="1.3"/>
<polyline points="421.7,35.3 423.6,40.8 423.6,48.1 426.3,53.5 431.8,59.0 437.2,63.6 440.0,67.2 439.1,73.6 438.2,82.7 439.1,91.8 440.0,101.0 440.9,110.0 440.2,117.5 443.9,123.0 447.6,127.7 449.5,132.4 455.1,134.2 464.4,136.1 470.0,139.8 472.8,145.4 473.7,154.7 477.4,162.2 483.0,171.5 486.8,178.9 488.6,186.4 492.3,188.3 496.1,192.0 503.5,193.8 507.3,193.6 508.3,191.7 511.1,180.3 514.9,170.8 515.9,165.1 519.7,159.4 525.4,150.8 526.3,148.0 533.0,138.5 540.6,127.1 542.5,110.0 542.5,102.7" fill="none" stroke="#4a4a4a" stroke-width="1.2" stroke-linejoin="round"/>
<polyline points="421.7,35.3 427.2,38.9 431.8,46.2 437.2,50.8 440.9,52.6 441.8,57.2 441.8,61.7 444.5,66.3 448.2,73.6 451.8,82.7 455.5,89.1 462.8,91.8 468.2,94.6 475.5,97.3 482.8,100.0 493.8,101.0 500.7,103.0 506.4,106.8 510.2,105.0 514.0,103.0" fill="none" stroke="#4a4a4a" stroke-width="1.2" stroke-linejoin="round"/>
<g transform="translate(455.26,93.79) scale(0.0885)"><g fill="#6e4488" stroke="#3d2450" stroke-width="0.5">
<polygon points="171.7,112.5 185.8,112.5 185.8,118.3 187.9,118.3 187.9,124.0 183.4,124.0 183.4,132.2 187.9,132.2 187.9,146.2 183.4,146.2 183.4,150.2 185.3,150.2 185.3,155.9 191.4,155.9 191.4,164.1 194.1,164.1 194.1,173.2 197.1,173.2 197.1,178.5 172.0,178.5 172.0,175.8 169.0,175.8 169.0,167.5 166.3,167.5 166.3,164.8 160.5,164.8 160.5,170.1 154.6,170.1 154.6,179.0 153.0,179.0 153.0,182.2 151.1,182.2 151.1,184.0 144.4,184.0 144.4,187.0 142.6,187.0 142.6,190.0 136.6,190.0 136.6,192.2 134.0,192.2 134.0,190.0 129.2,190.0 129.2,187.0 120.0,187.0 120.0,172.9 103.4,172.9 103.4,167.7 105.1,167.7 105.1,158.7 103.4,158.7 103.4,156.1 171.7,156.1" vector-effect="non-scaling-stroke"/>
<polygon points="209.2,153.6 214.2,153.6 214.2,141.9 217.6,141.0 217.6,126.8 240.5,126.8 240.5,141.0 243.6,141.9 244.4,146.9 246.9,150.3 250.3,152.8 252.8,155.3 255.3,152.8 257.8,150.3 260.3,147.7 265.3,147.7 268.3,150.3 268.7,163.6 273.7,163.6 274.5,161.6 279.6,161.6 280.4,163.6 284.6,163.6 285.4,161.6 287.9,161.6 288.8,163.6 293.8,163.6 294.6,156.1 297.2,153.6 300.0,153.3 300.0,150.3 302.6,150.3 302.6,218.2 291.5,218.2 291.5,224.4 272.0,224.4 272.0,218.2 228.5,218.2 228.5,212.7 229.8,211.0 231.8,210.2 231.8,185.0 229.3,184.6 229.3,158.6 220.1,158.6 220.1,167.0 211.7,167.0 209.2,164.5" vector-effect="non-scaling-stroke"/>
<polygon points="320.2,107.6 328.5,107.6 328.5,111.8 334.4,111.8 334.4,107.6 343.0,107.6 343.0,110.1 357.4,110.1 357.4,112.3 383.0,112.3 383.0,181.1 368.7,181.1 368.7,133.2 354.5,133.2 354.5,150.0 305.9,150.0 305.9,147.5 308.4,147.5 308.4,143.8 310.9,143.8 310.9,132.2 313.5,132.2 313.5,123.8 316.0,123.8 316.0,121.2 318.5,121.2 318.5,117.8 320.2,117.8" vector-effect="non-scaling-stroke"/>
<polygon points="72.2,150.3 77.6,150.3 77.6,153.0 80.1,153.0 80.1,158.9 86.4,158.9 86.4,170.2 88.5,170.2 88.5,172.2 90.6,172.2 90.6,174.8 92.7,174.8 92.7,176.8 94.7,176.8 94.7,178.1 92.7,178.1 92.7,187.0 103.3,187.0 103.3,227.1 100.4,227.1 100.4,235.5 66.5,235.5 66.5,232.6 60.4,232.6 60.4,229.5 63.4,229.5 63.4,227.0 66.0,227.0 66.0,221.3 69.1,221.3 69.1,218.3 66.0,218.3 66.0,210.1 63.4,210.1 63.4,203.9 57.3,203.9 57.3,200.9 52.2,200.9 52.2,197.8 55.2,197.8 55.2,195.2 57.8,195.2 57.8,189.6 66.5,189.6 66.5,187.0 71.8,187.0 71.8,184.0 57.5,184.0 57.5,181.0 54.2,181.0 54.2,178.1 49.2,178.1 49.2,170.2 52.5,170.2 52.5,167.2 58.0,167.2 58.0,164.7 63.4,164.7 63.4,167.2 71.8,167.2 71.8,155.5 69.2,155.5 69.2,152.6 72.2,152.6" vector-effect="non-scaling-stroke"/>
<polygon points="66.5,235.5 100.4,235.5 100.4,227.1 111.8,227.1 111.8,272.5 106.3,272.5 106.3,270.0 97.4,270.0 97.4,268.0 92.5,268.0 92.5,266.0 89.6,266.0 89.6,263.6 88.1,263.6 88.1,262.1 84.1,262.1 84.1,263.6 83.6,263.6 83.6,269.0 85.6,269.0 85.6,270.5 86.6,270.5 86.6,272.5 89.6,272.5 89.6,274.4 93.5,274.4 93.5,276.4 95.0,276.4 95.0,280.4 89.6,280.4 89.6,278.9 88.6,278.9 88.6,277.5 86.1,277.5 86.1,276.0 81.2,276.0 81.2,273.5 78.7,273.5 78.7,271.0 76.2,271.0 76.2,268.5 73.3,268.5 73.3,266.0 70.5,266.0 70.5,263.5 69.3,263.5 69.3,261.6 66.8,261.6 66.8,250.8 64.9,250.8 64.9,248.3 62.9,248.3 62.9,247.3 60.4,247.3 60.4,244.3 66.5,244.3" vector-effect="non-scaling-stroke"/>
<polygon points="111.8,227.1 143.2,227.1 143.2,244.9 191.9,244.9 191.9,255.5 137.2,255.5 137.2,261.3 134.7,261.3 134.7,275.3 117.0,275.3 117.0,272.8 111.8,272.5" vector-effect="non-scaling-stroke"/>
<polygon points="263.5,218.2 228.5,218.2 228.5,213.5 224.3,213.5 224.3,216.9 218.4,217.7 217.6,215.2 211.7,215.2 210.0,221.0 210.0,236.1 211.7,237.0 211.7,238.7 207.5,239.5 207.5,243.7 206.7,245.4 206.7,254.7 211.4,255.0 211.4,307.0 268.7,307.0 268.7,278.5 263.5,278.5" vector-effect="non-scaling-stroke"/>
<polygon points="263.5,218.2 272.0,218.2 272.0,224.4 291.5,224.4 291.5,218.2 302.6,218.2 302.6,261.0 337.2,261.0 337.2,289.6 305.9,289.6 305.9,279.1 268.7,278.7 263.5,278.5" vector-effect="non-scaling-stroke"/>
<polygon points="302.6,198.5 336.9,198.5 336.9,178.4 368.7,178.4 368.7,181.1 377.1,181.1 377.1,218.2 374.7,218.2 374.7,226.8 371.8,227.3 371.8,261.0 302.6,261.0" vector-effect="non-scaling-stroke"/>
<polygon points="374.7,218.2 405.4,218.2 405.7,215.5 428.3,215.5 428.3,224.1 437.1,224.1 437.4,221.6 439.6,221.6 439.6,249.4 428.3,249.4 428.3,306.7 386.1,306.7 386.1,261.0 371.8,261.0 371.8,227.3 374.7,226.8" vector-effect="non-scaling-stroke"/>
<polygon points="337.2,261.0 386.1,261.0 386.1,306.7 334.6,306.7 334.6,289.6 337.2,289.6" vector-effect="non-scaling-stroke"/>
<polygon points="251.8,307.0 294.8,307.0 294.8,320.9 340.4,320.9 340.4,372.7 297.8,372.7 297.8,361.0 251.8,361.0" vector-effect="non-scaling-stroke"/>
<polygon points="334.6,306.7 386.1,306.7 386.1,350.0 340.4,350.0 340.4,320.9 334.6,320.9" vector-effect="non-scaling-stroke"/>
<polygon points="386.1,306.7 428.3,306.7 428.3,346.7 434.4,346.7 434.4,350.3 432.1,350.3 432.1,353.3 434.4,353.3 445.7,367.6 445.7,369.9 420.0,386.9 386.1,386.9" vector-effect="non-scaling-stroke"/>
<polygon points="251.8,361.0 297.8,361.0 297.8,418.5 251.8,418.5" vector-effect="non-scaling-stroke"/>
<polygon points="297.8,372.7 340.4,372.7 340.4,418.5 297.8,418.5" vector-effect="non-scaling-stroke"/>
<polygon points="340.4,350.0 386.1,350.0 386.1,392.5 340.4,392.5" vector-effect="non-scaling-stroke"/>
<polygon points="251.8,418.5 297.8,418.5 297.8,466.7 251.8,466.7" vector-effect="non-scaling-stroke"/>
<polygon points="297.8,418.5 340.4,418.5 340.4,430.5 342.0,431.0 342.0,434.0 343.2,435.0 343.2,466.7 297.8,466.7" vector-effect="non-scaling-stroke"/>
<polygon points="340.4,392.5 386.1,392.5 386.1,438.8 351.4,438.8 351.4,433.3 348.7,431.5 347.8,429.7 343.2,429.7 340.4,430.5" vector-effect="non-scaling-stroke"/>
<polygon points="386.1,386.9 420.0,386.9 442.6,418.9 442.6,423.8 405.2,424.2 405.2,426.4 399.0,426.4 387.9,438.8 386.1,438.8" vector-effect="non-scaling-stroke"/>
</g></g>
<text x="593.3" y="46.5" font-size="13.9" text-anchor="middle" fill="#111" stroke="#111" stroke-width="0.35">N</text>
<polygon points="592.9,50.8 583.1,82.5 592.9,70.5" fill="#000"/>
<polygon points="592.9,50.8 602.4,82.2 592.9,70.5" fill="none" stroke="#000" stroke-width="1.1" stroke-linejoin="miter"/>
<g fill="#2f6fe6" font-size="6" font-weight="bold" font-style="italic" text-anchor="middle" letter-spacing="2.75">
<text x="578.6" y="140.8">Golfo</text><text x="576.3" y="148.5">de</text><text x="578.3" y="156.5">México</text>
</g>
</g>
<polyline points="391.3,32.7 391.3,204.4 613.8,204.4" fill="none" stroke="#555" stroke-width="1.3"/>
<rect x="41.2" y="32.7" width="572.6" height="472" fill="none" stroke="#2a2a2a" stroke-width="1.5"/>
<g stroke="#2a2a2a" stroke-width="1">
<line x1="200.5" y1="28.3" x2="200.5" y2="32.7"/><line x1="200.5" y1="504.7" x2="200.5" y2="509.3"/>
<line x1="371.4" y1="28.3" x2="371.4" y2="32.7"/><line x1="371.4" y1="504.7" x2="371.4" y2="509.3"/>
<line x1="542.6" y1="28.3" x2="542.6" y2="32.7"/><line x1="542.6" y1="504.7" x2="542.6" y2="509.3"/>
<line x1="36.8" y1="98.6" x2="41.2" y2="98.6"/><line x1="613.8" y1="98.6" x2="618.4" y2="98.6"/>
<line x1="36.8" y1="441.3" x2="41.2" y2="441.3"/><line x1="613.8" y1="441.3" x2="618.4" y2="441.3"/>
</g>
<g font-size="8.8" fill="#222" text-anchor="middle">
<text x="200.3" y="25.4">98°30'0&quot;W</text><text x="200.3" y="518.1">98°30'0&quot;W</text>
<text x="371.4" y="25.4">98°0'0&quot;W</text><text x="371.4" y="518.1">98°0'0&quot;W</text>
<text x="542.4" y="25.4">97°30'0&quot;W</text><text x="542.4" y="518.1">97°30'0&quot;W</text>
<text transform="translate(34 98.8) rotate(-90)">26°0'0&quot;N</text>
<text transform="translate(627.8 98.8) rotate(-90)">26°0'0&quot;N</text>
<text transform="translate(34 441) rotate(-90)">25°0'0&quot;N</text>
<text transform="translate(627.8 441) rotate(-90)">25°0'0&quot;N</text>
</g>
</svg></body></html>
